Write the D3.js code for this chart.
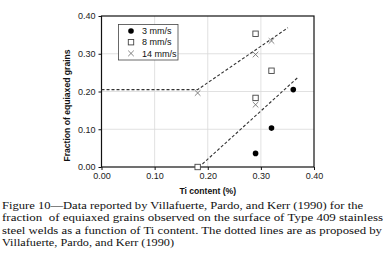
<!DOCTYPE html>
<html>
<head>
<meta charset="utf-8">
<script src="https://cdn.jsdelivr.net/npm/d3@7"></script>
<style>
  body { margin: 0; background: #fff; }
  svg { display: block; }
  .tick text { font-family: Arial, "Liberation Sans", sans-serif; font-size: 9px; fill: #222; }
  .caption { font-family: "Liberation Serif", "DejaVu Serif", serif; font-size: 10.8px; fill: #111; white-space: pre; }
</style>
</head>
<body>
<div id="chart"></div>
<script>
// data
const xTicks = [0, 0.1, 0.2, 0.3, 0.4];
const yTicks = [0, 0.1, 0.2, 0.3, 0.4];

const series3 = [[0.290, 0.036], [0.320, 0.103], [0.361, 0.205]];
const series8 = [[0.181, 0.0], [0.290, 0.353], [0.320, 0.255], [0.290, 0.183]];
const series14 = [[0.181, 0.196], [0.290, 0.298], [0.320, 0.334], [0.290, 0.165]];

const upperLine = [[0.0, 0.205], [0.181, 0.205], [0.351, 0.369]];
const lowerLine = [[0.190, 0.008], [0.371, 0.239]];

const legendLabels = ["3 mm/s", "8 mm/s", "14 mm/s"];

const captionLines = [
    "Figure 10\u2014Data reported by Villafuerte, Pardo, and Kerr (1990) for the",
    "fraction  of equiaxed grains observed on the surface of Type 409 stainless",
    "steel welds as a function of Ti content. The dotted lines are as proposed by",
    "Villafuerte, Pardo, and Kerr (1990)"
];
const captionWidths = [361, 381, 380, 172];

const W = 383, H = 265;
const margin = {top: 16, right: 69, bottom: 98, left: 101.5};
const width = W - margin.left - margin.right;
const height = H - margin.top - margin.bottom;

const svg = d3.select("#chart").append("svg")
    .attr("width", W)
    .attr("height", H);

const g = svg.append("g")
    .attr("transform", `translate(${margin.left},${margin.top})`);

const x = d3.scaleLinear().domain([0, 0.4]).range([0, width]);
const y = d3.scaleLinear().domain([0, 0.4]).range([height, 0]);

// grid
g.append("g").selectAll("line.vg")
    .data(xTicks.slice(1, -1))
    .enter().append("line")
    .attr("x1", d => x(d)).attr("x2", d => x(d))
    .attr("y1", 0).attr("y2", height)
    .attr("stroke", "#d9d9d9").attr("stroke-width", 0.8);

g.append("g").selectAll("line.hg")
    .data(yTicks.slice(1, -1))
    .enter().append("line")
    .attr("x1", 0).attr("x2", width)
    .attr("y1", d => y(d)).attr("y2", d => y(d))
    .attr("stroke", "#d9d9d9").attr("stroke-width", 0.8);

// frame
g.append("rect")
    .attr("x", 0).attr("y", 0)
    .attr("width", width).attr("height", height)
    .attr("fill", "none")
    .attr("stroke", "#111").attr("stroke-width", 1.2);

// axes
const xAxis = d3.axisBottom(x).tickValues(xTicks).tickFormat(d3.format(".2f")).tickSize(3).tickPadding(3);
const yAxis = d3.axisLeft(y).tickValues(yTicks).tickFormat(d3.format(".2f")).tickSize(3).tickPadding(3);

g.append("g")
    .attr("class", "axis x-axis")
    .attr("transform", `translate(0,${height})`)
    .call(xAxis)
    .call(a => a.select(".domain").remove())
    .selectAll("line").attr("stroke", "#111");

g.append("g")
    .attr("class", "axis y-axis")
    .call(yAxis)
    .call(a => a.select(".domain").remove())
    .selectAll("line").attr("stroke", "#111");

// axis titles
g.append("text")
    .attr("x", width / 2)
    .attr("y", height + 27)
    .attr("text-anchor", "middle")
    .style("font-family", "Arial, 'Liberation Sans', sans-serif")
    .style("font-size", "8.6px")
    .style("font-weight", "bold")
    .attr("fill", "#111")
    .text("Ti content (%)");

g.append("text")
    .attr("transform", `translate(-31.5,${height / 2 + 14}) rotate(-90)`)
    .attr("text-anchor", "middle")
    .style("font-family", "Arial, 'Liberation Sans', sans-serif")
    .style("font-size", "8.6px")
    .style("font-weight", "bold")
    .attr("fill", "#111")
    .text("Fraction of equiaxed grains");

// dashed lines
const line = d3.line().x(d => x(d[0])).y(d => y(d[1]));
[upperLine, lowerLine].forEach(l => {
    g.append("path")
        .datum(l)
        .attr("d", line)
        .attr("fill", "none")
        .attr("stroke", "#333")
        .attr("stroke-width", 1.1)
        .attr("stroke-dasharray", "3,2");
});

// markers
function drawCircle(sel, cx, cy) {
    sel.append("circle").attr("cx", cx).attr("cy", cy).attr("r", 2.8).attr("fill", "#000");
}
function drawSquare(sel, cx, cy) {
    sel.append("rect").attr("x", cx - 2.7).attr("y", cy - 2.7).attr("width", 5.4).attr("height", 5.4)
        .attr("fill", "#fff").attr("stroke", "#444").attr("stroke-width", 0.9);
}
function drawCross(sel, cx, cy) {
    const s = 2.8;
    sel.append("path")
        .attr("d", `M${cx - s},${cy - s}L${cx + s},${cy + s}M${cx - s},${cy + s}L${cx + s},${cy - s}`)
        .attr("stroke", "#666").attr("stroke-width", 0.8).attr("fill", "none");
}

const pts = g.append("g");
series8.forEach(d => drawSquare(pts, x(d[0]), y(d[1])));
series14.forEach(d => drawCross(pts, x(d[0]), y(d[1])));
series3.forEach(d => drawCircle(pts, x(d[0]), y(d[1])));

// legend
const leg = g.append("g").attr("transform", "translate(17,8.5)");
leg.append("rect")
    .attr("width", 59.5).attr("height", 35.5)
    .attr("fill", "#fff").attr("stroke", "#444").attr("stroke-width", 0.8);
const drawers = [drawCircle, drawSquare, drawCross];
legendLabels.forEach((lab, i) => {
    const cy = 6.5 + i * 11.2;
    drawers[i](leg, 12.5, cy);
    leg.append("text")
        .attr("x", 23.5).attr("y", cy + 3.2)
        .style("font-family", "Arial, 'Liberation Sans', sans-serif")
        .style("font-size", "9px")
        .attr("fill", "#111")
        .text(lab);
});

// caption
const cap = svg.append("g");
captionLines.forEach((t, i) => {
    cap.append("text")
        .attr("class", "caption")
        .attr("x", 2)
        .attr("y", 208.5 + i * 12.6)
        .attr("textLength", captionWidths[i])
        .attr("lengthAdjust", "spacingAndGlyphs")
        .text(t);
});
</script>
</body>
</html>
